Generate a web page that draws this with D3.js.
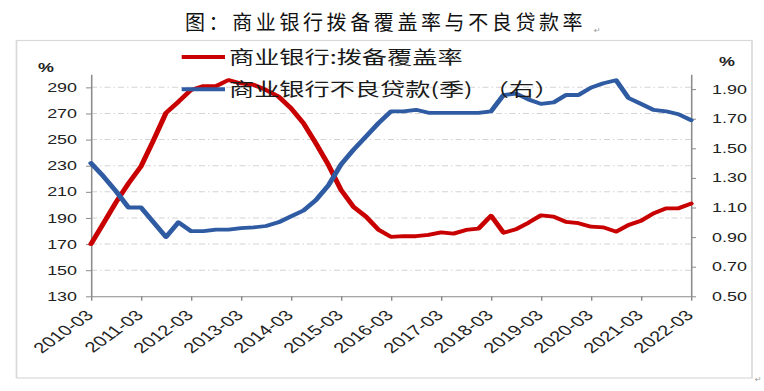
<!DOCTYPE html>
<html><head><meta charset="utf-8">
<script src="https://cdn.jsdelivr.net/npm/d3@7/dist/d3.min.js"></script>
<style>
html,body{margin:0;padding:0;background:#fff;}
svg{display:block;}
</style></head>
<body>
<svg id="chart" width="764" height="391"></svg>
<script>
const categories = [
 "2010-03","2010-06","2010-09","2010-12","2011-03","2011-06","2011-09","2011-12",
 "2012-03","2012-06","2012-09","2012-12","2013-03","2013-06","2013-09","2013-12",
 "2014-03","2014-06","2014-09","2014-12","2015-03","2015-06","2015-09","2015-12",
 "2016-03","2016-06","2016-09","2016-12","2017-03","2017-06","2017-09","2017-12",
 "2018-03","2018-06","2018-09","2018-12","2019-03","2019-06","2019-09","2019-12",
 "2020-03","2020-06","2020-09","2020-12","2021-03","2021-06","2021-09","2021-12",
 "2022-03"];
const coverage = [170,186,202,216.5,229.5,249.5,270.5,279,288,291,291,295.6,
 293,292,288,283,274,262.5,247,230.5,211.5,198.5,191,181,
 175.5,176,176,177,179,178,180.8,181.8,191.7,178.7,181.3,186.4,
 192,191,187,186,183.3,182.8,179.5,184.6,187.9,193.5,197.4,197.4,201];
const npl = [1.40,1.31,1.21,1.10,1.10,1.00,0.90,1.00,0.94,0.94,0.95,0.95,
 0.96,0.965,0.975,1.00,1.04,1.08,1.15,1.25,1.39,1.49,1.58,1.67,
 1.75,1.75,1.76,1.74,1.74,1.74,1.74,1.74,1.75,1.86,1.87,1.83,
 1.80,1.81,1.86,1.86,1.91,1.94,1.96,1.84,1.80,1.76,1.75,1.73,1.69];
const leftTicks = [130,150,170,190,210,230,250,270,290];
const rightTicks = [0.5,0.7,0.9,1.1,1.3,1.5,1.7,1.9];
const seriesNames = ["商业银行:拨备覆盖率","商业银行不良贷款(季)\u00A0\u00A0（右）"];
const titleText = "图：商业银行拨备覆盖率与不良贷款率";

const SX = 1.4; // horizontal stretch of the embedded chart picture
const svg = d3.select("#chart");
svg.append("rect").attr("width",764).attr("height",391).attr("fill","#fff");

// title (document text, not stretched)
svg.append("text").attr("x",185).attr("y",30)
  .attr("font-family","'Noto Sans CJK SC'").attr("font-size",20)
  .attr("letter-spacing","3.6px").attr("fill","#111").text(titleText);
svg.append("text").attr("x",594).attr("y",33).attr("font-family","DejaVu Sans")
  .attr("font-size",8).attr("fill","#999").text("↵");
svg.append("text").attr("x",755).attr("y",382).attr("font-family","DejaVu Sans")
  .attr("font-size",8).attr("fill","#999").text("↵");

const g = svg.append("g").attr("transform",`scale(${SX},1)`);
const X = v => v / SX;

// frame
g.append("rect").attr("x",X(16.5)).attr("y",40.5).attr("width",X(752)-X(16.5)).attr("height",337.5)
  .attr("fill","none").attr("stroke","#d9d9d9").attr("stroke-width",1.2);

const x = d3.scalePoint().domain(categories).range([X(91),X(691)]);
const yL = d3.scaleLinear().domain([130,300]).range([296.3,74.3]);
const yR = d3.scaleLinear().domain([0.5,2.0]).range([296.3,74.3]);

// gridlines
g.append("g").selectAll("line").data(leftTicks.slice(1)).join("line")
  .attr("x1",X(91)).attr("x2",X(691)).attr("y1",d=>yL(d)).attr("y2",d=>yL(d))
  .attr("stroke","#d4d4d4").attr("stroke-width",1)
  .attr("stroke-dasharray",`${6/SX},${3/SX},${1.5/SX},${3/SX}`);

const axisColor = "#8a8a8a";
function styleAxis(sel){
  sel.select(".domain").attr("stroke",axisColor).attr("stroke-width",1.1);
  sel.selectAll(".tick line").attr("stroke",axisColor).attr("stroke-width",1);
  sel.selectAll(".tick text").attr("fill","#222").attr("font-family","'Liberation Sans',Arial")
    .attr("font-size",12.8);
}
const gL = g.append("g").attr("transform",`translate(${X(91)},0)`)
  .call(d3.axisLeft(yL).tickValues(leftTicks).tickFormat(d3.format("d"))
    .tickSizeInner(X(5)).tickSizeOuter(0).tickPadding(X(9)));
styleAxis(gL);
const gR = g.append("g").attr("transform",`translate(${X(691)},0)`)
  .call(d3.axisRight(yR).tickValues(rightTicks).tickFormat(d3.format(".2f"))
    .tickSizeInner(X(5)).tickSizeOuter(0).tickPadding(X(16)));
styleAxis(gR);
const gX = g.append("g").attr("transform","translate(0,296.3)")
  .call(d3.axisBottom(x).tickValues(categories.filter((d,i)=>i%4===0))
    .tickSizeInner(4.5).tickSizeOuter(0));
styleAxis(gX);
gX.selectAll(".tick text").attr("font-size",14.5).attr("text-anchor","end")
  .attr("x",0).attr("y",0).attr("dy",0)
  .attr("transform","translate(2,20) rotate(-45)");

// % labels
g.append("text").attr("x",X(46)).attr("y",72).attr("text-anchor","middle")
  .attr("font-family","'Liberation Sans',Arial").attr("font-size",12.8).attr("font-weight","bold")
  .attr("fill","#222").text("%");
g.append("text").attr("x",X(727)).attr("y",66).attr("text-anchor","middle")
  .attr("font-family","'Liberation Sans',Arial").attr("font-size",12.8).attr("font-weight","bold")
  .attr("fill","#222").text("%");

// lines
const red = "#c80000", blue = "#2f5ba3";
const lineL = d3.line().x((d,i)=>x(categories[i])).y(d=>yL(d));
const lineR = d3.line().x((d,i)=>x(categories[i])).y(d=>yR(d));
g.append("path").datum(coverage).attr("d",lineL).attr("fill","none")
  .attr("stroke",red).attr("stroke-width",3.8).attr("stroke-linejoin","round").attr("stroke-linecap","round");
g.append("path").datum(npl).attr("d",lineR).attr("fill","none")
  .attr("stroke",blue).attr("stroke-width",3.8).attr("stroke-linejoin","round").attr("stroke-linecap","round");

// legend
const legY = [57, 89.3];
const legColors = [red, blue];
seriesNames.forEach((name,i)=>{
  g.append("line").attr("x1",X(181.7)).attr("x2",X(225)).attr("y1",legY[i]).attr("y2",legY[i])
    .attr("stroke",legColors[i]).attr("stroke-width",4);
  g.append("text").attr("x",X(229)).attr("y",legY[i]+7)
    .attr("font-family","'Noto Sans CJK SC'").attr("font-size",18).attr("fill","#1a1a1a").text(name);
});
</script>
</body></html>
